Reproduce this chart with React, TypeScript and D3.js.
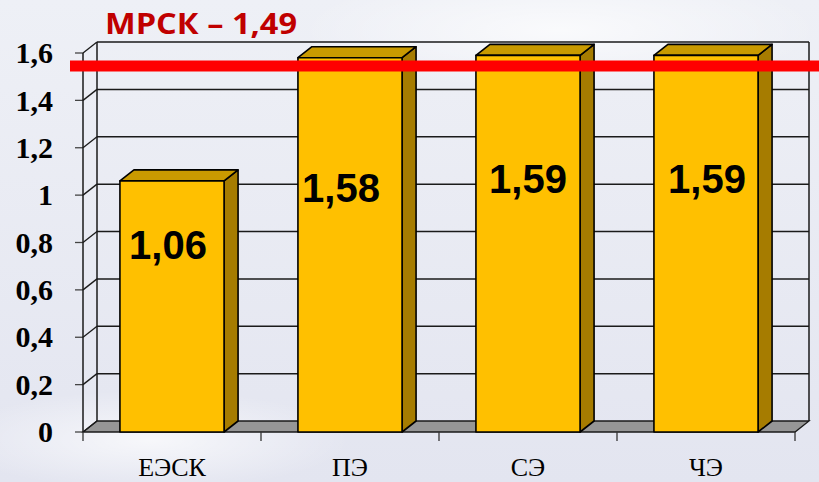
import React from "react";
import * as d3 from "d3";

const categories = ["ЕЭСК", "ПЭ", "СЭ", "ЧЭ"];
const values = [1.06, 1.58, 1.59, 1.59];
const valueLabels = ["1,06", "1,58", "1,59", "1,59"];
const yTicks = [0, 0.2, 0.4, 0.6, 0.8, 1, 1.2, 1.4, 1.6];
const yTickLabels = ["0", "0,2", "0,4", "0,6", "0,8", "1", "1,2", "1,4", "1,6"];
const titleText = "МРСК – 1,49";
const mrskLineLevel = 1.545;
// layout: label centres (in value units) and horizontal nudges
const labelLevels = [0.79, 1.03, 1.07, 1.07];
const labelDx = [-4, -9, 0, 1];

const W = 819;
const H = 482;
const DX = 14;
const DY = -11;

export default function App() {
  const x = d3.scaleBand<string>().domain(categories).range([83, 795]).padding(0);
  const y = d3.scaleLinear().domain([0, 1.6]).range([432, 53]);
  const barW = x.bandwidth() * 0.585;
  const x0 = 83, x1 = 795;
  const y0 = y(0);
  const ytop = y(1.6);
  const gridStroke = "#1a1a1a";

  return (
    <svg width={W} height={H} style={{ position: "absolute", left: 0, top: 0 }}>
      <defs>
        <linearGradient id="bg" x1="0" y1="0" x2="0" y2="1">
          <stop offset="0" stopColor="#EEF0F6" />
          <stop offset="1" stopColor="#E3E5F0" />
        </linearGradient>
        <radialGradient id="glow1" cx="0.5" cy="0.5" r="0.5">
          <stop offset="0" stopColor="#ffffff" stopOpacity="0.7" />
          <stop offset="1" stopColor="#ffffff" stopOpacity="0" />
        </radialGradient>
      </defs>
      <rect x={0} y={0} width={W} height={H} fill="url(#bg)" />
      <ellipse cx={560} cy={30} rx={260} ry={60} fill="url(#glow1)" />
      <ellipse cx={150} cy={440} rx={200} ry={50} fill="url(#glow1)" />

      {/* floor */}
      <polygon
        points={`${x0},${y0} ${x1},${y0} ${x1 + DX},${y0 + DY} ${x0 + DX},${y0 + DY}`}
        fill="#969696"
        stroke={gridStroke}
        strokeWidth={1.3}
      />
      {/* back wall gridlines */}
      {yTicks.map((t, i) => (
        <g key={i}>
          {t > 0 && (
            <line x1={x0 + DX} x2={x1 + DX} y1={y(t) + DY} y2={y(t) + DY} stroke={gridStroke} strokeWidth={1.5} />
          )}
          <line x1={x0} x2={x0 + DX} y1={y(t)} y2={y(t) + DY} stroke={gridStroke} strokeWidth={1.3} />
          <line x1={x0 - 8} x2={x0} y1={y(t)} y2={y(t)} stroke="#444" strokeWidth={1.3} />
        </g>
      ))}
      {/* walls edges */}
      <line x1={x0 + DX} x2={x0 + DX} y1={y0 + DY} y2={ytop + DY} stroke={gridStroke} strokeWidth={1.5} />
      <line x1={x1 + DX} x2={x1 + DX} y1={y0 + DY} y2={ytop + DY} stroke={gridStroke} strokeWidth={1.5} />
      <line x1={x0} x2={x0} y1={y0} y2={ytop} stroke={gridStroke} strokeWidth={1.5} />
      {/* x ticks */}
      {[...categories.map((c) => x(c) as number), x1].map((tx, i) => (
        <line key={i} x1={tx} x2={tx} y1={y0} y2={y0 + 9} stroke="#333" strokeWidth={1.3} />
      ))}

      {/* bars */}
      {categories.map((c, i) => {
        const cx = (x(c) as number) + x.bandwidth() / 2;
        const bx0 = cx - barW / 2;
        const bx1 = cx + barW / 2;
        const yv = y(values[i]);
        return (
          <g key={c} stroke="#000" strokeWidth={1.6} strokeLinejoin="round">
            <polygon
              points={`${bx1},${yv} ${bx1 + DX},${yv + DY} ${bx1 + DX},${y0 + DY} ${bx1},${y0}`}
              fill="#A67C00"
            />
            <polygon
              points={`${bx0},${yv} ${bx1},${yv} ${bx1 + DX},${yv + DY} ${bx0 + DX},${yv + DY}`}
              fill="#C99A00"
            />
            <rect x={bx0} y={yv} width={barW} height={y0 - yv} fill="#FFC000" />
          </g>
        );
      })}

      {/* value labels */}
      {categories.map((c, i) => {
        const cx = (x(c) as number) + x.bandwidth() / 2 + labelDx[i];
        return (
          <text
            key={c}
            x={cx}
            y={y(labelLevels[i]) + 14}
            textAnchor="middle"
            fontFamily="'Liberation Sans', Arial, sans-serif"
            fontWeight="bold"
            fontSize={40}
            fill="#000"
          >
            {valueLabels[i]}
          </text>
        );
      })}

      {/* y labels */}
      {yTicks.map((t, i) => (
        <text
          key={i}
          x={53}
          y={y(t)}
          dy="0.34em"
          textAnchor="end"
          fontFamily="'Liberation Serif', 'Times New Roman', serif"
          fontWeight="bold"
          fontSize={30}
          fill="#000"
        >
          {yTickLabels[i]}
        </text>
      ))}

      {/* x labels */}
      {categories.map((c) => (
        <text
          key={c}
          x={(x(c) as number) + x.bandwidth() / 2}
          y={476}
          textAnchor="middle"
          fontFamily="'Liberation Serif', 'Times New Roman', serif"
          fontSize={26}
          fill="#000"
        >
          {c}
        </text>
      ))}

      {/* MRSK line */}
      <line x1={70} x2={W} y1={y(mrskLineLevel)} y2={y(mrskLineLevel)} stroke="#FF0000" strokeWidth={11} />
      <text
        x={105}
        y={34}
        fontFamily="'Open Sans', 'Liberation Sans', sans-serif"
        fontWeight="bold"
        fontSize={29}
        fill="#C00000"
        textLength={192}
        lengthAdjust="spacingAndGlyphs"
      >
        {titleText}
      </text>
    </svg>
  );
}
